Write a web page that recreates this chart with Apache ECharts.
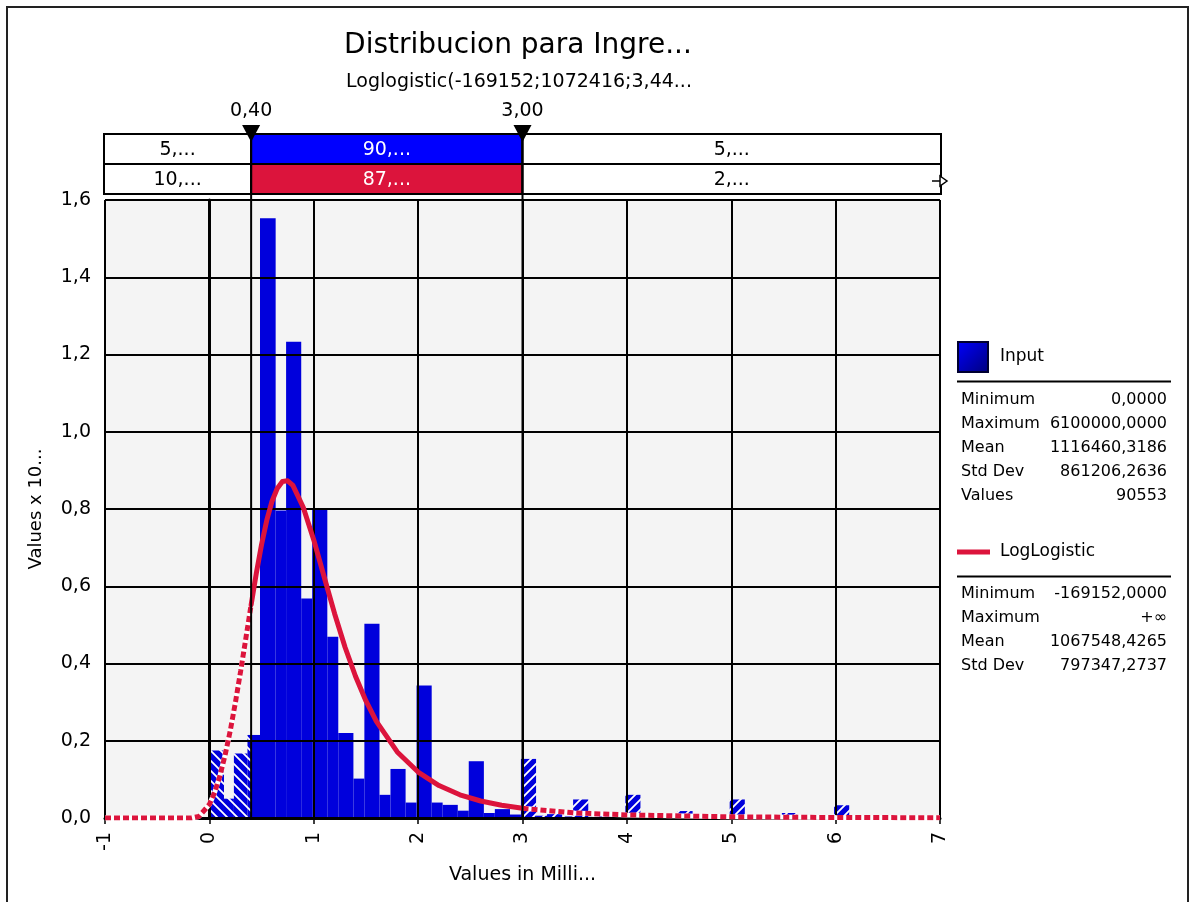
<!DOCTYPE html>
<html>
<head>
<meta charset="utf-8">
<script src="https://cdn.jsdelivr.net/npm/echarts@6/dist/echarts.min.js"></script>
<style>
  html, body { margin: 0; padding: 0; background: #fff; }
  #chart { width: 1190px; height: 902px; }
</style>
</head>
<body>
<div id="chart"></div>
<script>
// ---------------- data ----------------
const titleText = 'Distribucion para Ingre...';
const subtitleText = 'Loglogistic(-169152;1072416;3,44...';
const xAxisName = 'Values in Milli...';
const yAxisName = 'Values x 10...';

// histogram bin edges (millions) and bar heights (x 10^-6)
const binEdges = [0, 0.14, 0.235, 0.365, 0.485, 0.635, 0.735, 0.88, 0.985, 1.13, 1.235, 1.38, 1.485, 1.63, 1.735, 1.88, 1.985, 2.13, 2.235, 2.38, 2.485, 2.63, 2.735, 2.88, 2.985, 3.13, 3.235, 3.38, 3.485, 3.63, 3.735, 3.88, 3.985, 4.13, 4.235, 4.38, 4.485, 4.63, 4.735, 4.88, 4.985, 5.13, 5.235, 5.38, 5.485, 5.63, 5.735, 5.88, 5.985, 6.13];
const binHeights = [0.175, 0.05, 0.167, 0.215, 1.553, 0.796, 1.233, 0.568, 0.799, 0.469, 0.22, 0.102, 0.503, 0.06, 0.127, 0.04, 0.343, 0.04, 0.034, 0.019, 0.147, 0.013, 0.023, 0.009, 0.153, 0.006, 0.01, 0.004, 0.048, 0.003, 0.006, 0.002, 0.06, 0.002, 0.004, 0.002, 0.018, 0.002, 0.003, 0.001, 0.048, 0.001, 0.003, 0.001, 0.013, 0.001, 0.002, 0.001, 0.033];

// fitted LogLogistic curve
const curveX = [-1, -0.5, -0.17, -0.1, 0, 0.05, 0.1, 0.15, 0.2, 0.25, 0.3, 0.35, 0.4, 0.45, 0.5, 0.55, 0.6, 0.65, 0.7, 0.75, 0.8, 0.9, 1.0, 1.1, 1.2, 1.3, 1.4, 1.5, 1.6, 1.8, 2.0, 2.2, 2.4, 2.6, 2.8, 3.0, 3.5, 4, 5, 6, 7];
const curveY = [0, 0, 0, 0.004, 0.035, 0.066, 0.108, 0.162, 0.226, 0.300, 0.381, 0.466, 0.552, 0.634, 0.708, 0.771, 0.820, 0.853, 0.871, 0.873, 0.861, 0.804, 0.720, 0.624, 0.529, 0.442, 0.367, 0.303, 0.250, 0.171, 0.119, 0.084, 0.060, 0.044, 0.033, 0.025, 0.013, 0.008, 0.003, 0.0013, 0.0007];

// delimiters and percentages
const delimiters = [0.40, 3.00];
const delimLabels = ['0,40', '3,00'];
const inputPct = ['5,...', '90,...', '5,...'];
const fitPct = ['10,...', '87,...', '2,...'];

// legend statistics
const inputName = 'Input';
const fitName = 'LogLogistic';
const inputStats = [['Minimum', '0,0000'], ['Maximum', '6100000,0000'], ['Mean', '1116460,3186'], ['Std Dev', '861206,2636'], ['Values', '90553']];
const fitStats = [['Minimum', '-169152,0000'], ['Maximum', '+\u221e'], ['Mean', '1067548,4265'], ['Std Dev', '797347,2737']];

const xMin = -1, xMax = 7, xStep = 1;
const yMin = 0, yMax = 1.6, yStep = 0.2;

// ---------------- styling ----------------
const FONT = 'DejaVu Sans';
const BLUE = '#0000dc';
const BRIGHT_BLUE = '#0000ff';
const RED = '#dc143c';

function makeHatch(dir) {
  const s = 10;
  const c = document.createElement('canvas');
  c.width = s; c.height = s;
  const g = c.getContext('2d');
  g.fillStyle = BLUE; g.fillRect(0, 0, s, s);
  g.strokeStyle = '#ffffff'; g.lineWidth = 1.8;
  g.beginPath();
  if (dir > 0) { // "/"
    g.moveTo(0, s); g.lineTo(s, 0);
    g.moveTo(-2, 2); g.lineTo(2, -2);
    g.moveTo(s - 2, s + 2); g.lineTo(s + 2, s - 2);
  } else { // "\"
    g.moveTo(0, 0); g.lineTo(s, s);
    g.moveTo(-2, s - 2); g.lineTo(2, s + 2);
    g.moveTo(s - 2, -2); g.lineTo(s + 2, 2);
  }
  g.stroke();
  return { image: c, repeat: 'repeat' };
}
const hatchLeft = makeHatch(-1);
const hatchRight = makeHatch(1);

const barData = binHeights.map((h, i) => [binEdges[i], binEdges[i + 1], h]);
const curve = curveX.map((x, i) => [x, curveY[i]]);
const leftTail = curve.filter(p => p[0] <= delimiters[0]);
const midPart = curve.filter(p => p[0] >= delimiters[0] && p[0] <= delimiters[1]);
const rightTail = curve.filter(p => p[0] >= delimiters[1]);

const chart = echarts.init(document.getElementById('chart'), null, { renderer: 'canvas' });

const grid = { left: 105, top: 200, right: 250, bottom: 84, show: true, backgroundColor: '#f4f4f4', borderWidth: 0, z: 0 };

const lineBase = { type: 'line', symbol: 'none', smooth: false, silent: true, animation: false };

chart.setOption({
  animation: false,
  textStyle: { fontFamily: FONT },
  grid: grid,
  xAxis: {
    type: 'value', min: xMin, max: xMax, interval: xStep, z: 1,
    name: xAxisName, nameLocation: 'middle', nameGap: 48,
    nameTextStyle: { fontSize: 19, color: '#000', fontFamily: FONT },
    axisLine: { show: true, onZero: false, lineStyle: { color: '#000', width: 3 } },
    axisTick: { show: true, length: 6, lineStyle: { color: '#000', width: 1.5 } },
    axisLabel: { rotate: 90, fontSize: 19, color: '#000', margin: 14, fontFamily: FONT },
    splitLine: { show: true, lineStyle: { color: '#000', width: 2 } }
  },
  yAxis: {
    type: 'value', min: yMin, max: yMax, interval: yStep, z: 1,
    name: yAxisName, nameLocation: 'middle', nameGap: 60,
    nameTextStyle: { fontSize: 18, color: '#000', fontFamily: FONT },
    axisLine: { show: true, lineStyle: { color: '#000', width: 3 } },
    axisTick: { show: true, length: 6, lineStyle: { color: '#000', width: 1.5 } },
    axisLabel: { fontSize: 19, color: '#000', margin: 14, fontFamily: FONT,
      formatter: v => v.toFixed(1).replace('.', ',') },
    splitLine: { show: true, lineStyle: { color: '#000', width: 2 } }
  },
  series: [
    {
      type: 'custom', z: 0, silent: true, animation: false,
      data: barData,
      encode: { x: [0, 1], y: 2 },
      renderItem: function (params, api) {
        const x0 = api.value(0), x1 = api.value(1), h = api.value(2);
        const lo = delimiters[0], hi = delimiters[1];
        const kids = [];
        const add = (a, b, fill) => {
          if (b - a <= 1e-9) return;
          const p0 = api.coord([a, h]);
          const p1 = api.coord([b, 0]);
          kids.push({
            type: 'rect',
            shape: { x: p0[0], y: p0[1], width: p1[0] - p0[0], height: p1[1] - p0[1] },
            style: { fill: fill }
          });
        };
        add(x0, Math.min(x1, lo), hatchLeft);
        add(Math.max(x0, lo), Math.min(x1, hi), BLUE);
        add(Math.max(x0, hi), x1, hatchRight);
        return { type: 'group', children: kids };
      }
    },
    Object.assign({}, lineBase, { z: 3, data: leftTail, lineStyle: { color: '#ffffff', width: 5 } }),
    Object.assign({}, lineBase, { z: 4, data: leftTail, lineStyle: { color: RED, width: 5, type: [6, 3] } }),
    Object.assign({}, lineBase, { z: 3, data: rightTail, lineStyle: { color: '#ffffff', width: 5 } }),
    Object.assign({}, lineBase, { z: 4, data: rightTail, lineStyle: { color: RED, width: 5, type: [6, 3] } }),
    Object.assign({}, lineBase, { z: 4, data: midPart, lineStyle: { color: RED, width: 5, join: 'round', cap: 'round' } })
  ]
});

// ---------------- overlay graphics ----------------
const px = v => chart.convertToPixel({ xAxisIndex: 0 }, v);
const xL = px(xMin), xR = px(xMax);
const d1 = px(delimiters[0]), d2 = px(delimiters[1]);
const yBottom = chart.convertToPixel({ yAxisIndex: 0 }, yMin);

const g = [];
// outer frame
g.push({ type: 'rect', z: -10, silent: true, shape: { x: 7, y: 7, width: 1181, height: 1000 }, style: { fill: 'none', stroke: '#222', lineWidth: 2 } });
// titles
g.push({ type: 'text', x: 518, y: 46, z: 10, style: { text: titleText, fontSize: 28, fontFamily: FONT, fill: '#000', align: 'center', verticalAlign: 'middle' } });
g.push({ type: 'text', x: 519, y: 82, z: 10, style: { text: subtitleText, fontSize: 19, fontFamily: FONT, fill: '#000', align: 'center', verticalAlign: 'middle' } });

// percentage boxes
const rowTop = [134, 164];
const rowH = 30;
const cellsX = [[xL - 1, d1], [d1, d2], [d2, xR + 1]];
const rowFill = [BRIGHT_BLUE, RED];
[inputPct, fitPct].forEach((labels, r) => {
  cellsX.forEach((c, i) => {
    const colored = i === 1;
    g.push({ type: 'rect', z: 10, shape: { x: c[0], y: rowTop[r], width: c[1] - c[0], height: rowH },
      style: { fill: colored ? rowFill[r] : '#fff', stroke: '#000', lineWidth: 2 } });
    g.push({ type: 'text', z: 11, x: (c[0] + c[1]) / 2, y: rowTop[r] + rowH / 2 + 1,
      style: { text: labels[i], fontSize: 19, fontFamily: FONT, fill: colored ? '#fff' : '#000', align: 'center', verticalAlign: 'middle' } });
  });
});
// arrow at right of second row
g.push({ type: 'line', z: 12, shape: { x1: xR - 8, y1: 181, x2: xR + 1, y2: 181 }, style: { stroke: '#000', lineWidth: 1.5 } });
g.push({ type: 'polygon', z: 12, shape: { points: [[xR, 176], [xR + 7, 181], [xR, 186]] }, style: { fill: '#fff', stroke: '#000', lineWidth: 1.5 } });

// delimiter markers
[d1, d2].forEach((x, i) => {
  g.push({ type: 'line', z: 12, shape: { x1: x, y1: 125, x2: x, y2: yBottom }, style: { stroke: '#000', lineWidth: 2 } });
  g.push({ type: 'polygon', z: 13, shape: { points: [[x - 9, 125], [x + 9, 125], [x, 142]] }, style: { fill: '#000' } });
  g.push({ type: 'text', z: 13, x: x, y: 111, style: { text: delimLabels[i], fontSize: 19, fontFamily: FONT, fill: '#000', align: 'center', verticalAlign: 'middle' } });
});

// legend: Input
g.push({ type: 'rect', z: 10, shape: { x: 958, y: 342, width: 30, height: 30 },
  style: { fill: new echarts.graphic.LinearGradient(0, 0, 1, 1, [{ offset: 0, color: '#0000ff' }, { offset: 1, color: '#00007a' }]), stroke: '#000030', lineWidth: 2 } });
g.push({ type: 'text', z: 10, x: 1000, y: 357, style: { text: inputName, fontSize: 17, fontFamily: FONT, fill: '#000', verticalAlign: 'middle' } });
g.push({ type: 'line', z: 10, shape: { x1: 957, y1: 381.5, x2: 1171, y2: 381.5 }, style: { stroke: '#000', lineWidth: 2 } });
inputStats.forEach((row, i) => {
  const y = 400 + 24 * i;
  g.push({ type: 'text', z: 10, x: 961, y: y, style: { text: row[0], fontSize: 16, fontFamily: FONT, fill: '#000', verticalAlign: 'middle' } });
  g.push({ type: 'text', z: 10, x: 1167, y: y, style: { text: row[1], fontSize: 16, fontFamily: FONT, fill: '#000', align: 'right', verticalAlign: 'middle' } });
});
// legend: LogLogistic
g.push({ type: 'line', z: 10, shape: { x1: 957, y1: 552, x2: 990, y2: 552 }, style: { stroke: RED, lineWidth: 5 } });
g.push({ type: 'text', z: 10, x: 1000, y: 552, style: { text: fitName, fontSize: 17, fontFamily: FONT, fill: '#000', verticalAlign: 'middle' } });
g.push({ type: 'line', z: 10, shape: { x1: 957, y1: 576.5, x2: 1171, y2: 576.5 }, style: { stroke: '#000', lineWidth: 2 } });
fitStats.forEach((row, i) => {
  const y = 594 + 24 * i;
  g.push({ type: 'text', z: 10, x: 961, y: y, style: { text: row[0], fontSize: 16, fontFamily: FONT, fill: '#000', verticalAlign: 'middle' } });
  g.push({ type: 'text', z: 10, x: 1167, y: y, style: { text: row[1], fontSize: 16, fontFamily: FONT, fill: '#000', align: 'right', verticalAlign: 'middle' } });
});

chart.setOption({ graphic: { elements: g } });
</script>
</body>
</html>
